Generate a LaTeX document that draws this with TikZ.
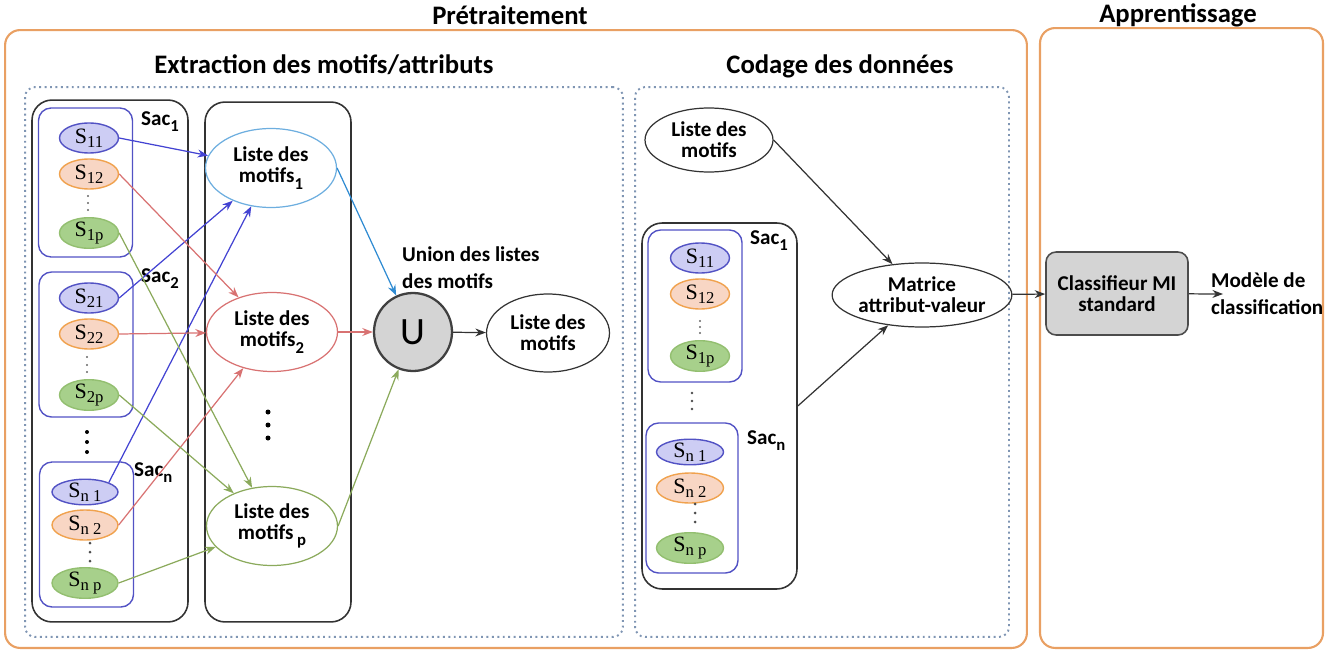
\documentclass[tikz,border=0pt]{standalone}
\usepackage{fontspec}
\setmainfont{Carlito}
\newfontfamily\serifS{Liberation Serif}
\usetikzlibrary{arrows.meta,shapes.geometric}

\definecolor{frameorange}{HTML}{E9A063}
\definecolor{framedots}{HTML}{7F95B3}
\definecolor{sbluefill}{HTML}{CDCDF4}
\definecolor{sblueline}{HTML}{5252C4}
\definecolor{sorangefill}{HTML}{F8D6C4}
\definecolor{sorangeline}{HTML}{F0A24E}
\definecolor{sgreenfill}{HTML}{A7D08B}
\definecolor{sgreenline}{HTML}{93BF70}
\definecolor{eblue}{HTML}{4343D2}
\definecolor{elightblue}{HTML}{2F8BD2}
\definecolor{ered}{HTML}{D87272}
\definecolor{egreen}{HTML}{8BAA5C}

\tikzset{box:phase/.style={draw=frameorange,line width=1.2pt,rounded corners=0.3cm,shape=rectangle}}
\tikzset{box:part/.style={draw=framedots,line width=1.1pt,dotted,rounded corners=0.2cm,shape=rectangle}}
\tikzset{box:bags/.style={draw=black!80,line width=0.9pt,rounded corners=0.4cm,shape=rectangle}}
\tikzset{box:sac/.style={draw=sblueline,line width=0.8pt,rounded corners=0.25cm,shape=rectangle,minimum width=1.88cm}}
\tikzset{node:s/.style={shape=ellipse,inner sep=0pt,minimum width=1.18cm,minimum height=0.6cm,line width=0.8pt}}
\tikzset{node:sblue/.style={node:s,draw=sblueline,fill=sbluefill}}
\tikzset{node:sorange/.style={node:s,draw=sorangeline,fill=sorangefill}}
\tikzset{node:sgreen/.style={node:s,draw=sgreenline,fill=sgreenfill}}
\tikzset{node:liste/.style={shape=ellipse,inner sep=0pt,align=center,minimum width=2.62cm,minimum height=1.58cm,line width=0.7pt}}
\tikzset{edge:style/.style={draw,line width=0.7pt,-{Stealth[length=6pt,width=4.5pt]}}}

\def\nodetext{\fontsize{12}{15.5}\selectfont\bfseries}
\def\titletext{\fontsize{15.2}{18}\selectfont\bfseries}
\def\sname#1{{\serifS\fontsize{12.5}{13}\selectfont S\raisebox{-0.35ex}{\fontsize{9.5}{10}\selectfont #1}}}
\def\sub#1{\raisebox{-0.6ex}{\fontsize{9.5}{10}\selectfont #1}}

\begin{document}
\begin{tikzpicture}[x=0.02cm,y=-0.02cm]
	\useasboundingbox (0,0) rectangle (1344,655);
	
	\path (516,339) node[box:phase,minimum width=20.44cm,minimum height=12.36cm] (pre) {};
	\path (1181.5,338) node[box:phase,minimum width=5.66cm,minimum height=12.4cm] (app) {};
	\path (324,362) node[box:part,minimum width=11.96cm,minimum height=11cm] (extr) {};
	\path (822,362) node[box:part,minimum width=7.48cm,minimum height=11cm] (cod) {};
	
	\path (510,15) node[font=\titletext] (tpre) {Prétraitement};
	\path (1178,15) node[font=\titletext] (tapp) {Apprentissage};
	\path (324,65) node[font=\titletext] (textr) {Extraction des motifs/attributs};
	\path (840,66) node[font=\titletext] (tcod) {Codage des données};
	
	\path (110,361) node[box:bags,minimum width=3.12cm,minimum height=10.44cm] (bags) {};
	\path (278,362) node[box:bags,minimum width=2.92cm,minimum height=10.4cm] (listes) {};
	
	\path (85.5,182.5) node[box:sac,minimum height=2.98cm] (sac1) {};
	\path (86,344.5) node[box:sac,minimum height=2.9cm] (sac2) {};
	\path (86.5,534.5) node[box:sac,minimum height=2.9cm] (sacn) {};
	\path (135,122) node[anchor=west,font=\nodetext] (lsac1) {Sac\sub{1}};
	\path (135,279) node[anchor=west,font=\nodetext] (lsac2) {Sac\sub{2}};
	\path (128,473) node[anchor=west,font=\nodetext] (lsacn) {Sac\sub{n}};
	
	\path (89,138) node[node:sblue] (s11) {\sname{11}};
	\path (89,174) node[node:sorange] (s12) {\sname{12}};
	\path (89,233) node[node:sgreen] (s1p) {\sname{1p}};
	\path (89,298) node[node:sblue] (s21) {\sname{21}};
	\path (89,334) node[node:sorange] (s22) {\sname{22}};
	\path (89,395) node[node:sgreen] (s2p) {\sname{2p}};
	\path (85,492) node[node:sblue,minimum width=1.32cm,minimum height=0.42cm] (sn1) {\sname{n 1}};
	\path (85,525) node[node:sorange,minimum width=1.32cm] (sn2) {\sname{n 2}};
	\path (85,583) node[node:sgreen,minimum width=1.32cm,minimum height=0.56cm] (snp) {\sname{n p}};
	
	\foreach \y in {196,203,210} \fill[black!60] (88,\y) circle (1.2);
	\foreach \y in {357,365,372} \fill[black!60] (87,\y) circle (1.2);
	\foreach \y in {432,442,452} \fill (87,\y) circle (2);
	\foreach \y in {543,552,561} \fill[black!70] (90,\y) circle (1.5);
	
	\path (271,168) node[node:liste,draw=elightblue!70] (l1) {\nodetext Liste des\\\nodetext motifs\sub{1}};
	\path (272,332) node[node:liste,draw=ered] (l2) {\nodetext Liste des\\\nodetext motifs\sub{2}};
	\path (272,526) node[node:liste,draw=egreen] (lp) {\nodetext Liste des\\\nodetext motifs\,\sub{p}};
	\foreach \y in {412,425,438} \fill (268,\y) circle (2.5);
	
	\path (413,332) node[shape=circle,draw=black!75,line width=1.3pt,fill=black!17,minimum size=1.56cm,inner sep=0pt,font=\fontsize{22}{22}\selectfont] (u) {U};
	\path (396,268) node[anchor=west,align=left,font=\nodetext] (lunion) {Union des listes\\des motifs};
	\path (548,333) node[node:liste,draw=black!80,minimum width=2.46cm,minimum height=1.56cm] (res) {\nodetext Liste des\\\nodetext motifs};
	
	\path[edge:style,eblue] (s11.east) -- (l1);
	\path[edge:style,eblue] (s21.east) -- (l1);
	\path[edge:style,eblue] (sn1.north east) -- (l1);
	\path[edge:style,ered] (s12.east) -- (l2);
	\path[edge:style,ered] (s22.east) -- (l2);
	\path[edge:style,ered] (sn2.east) -- (l2);
	\path[edge:style,egreen] (s1p.east) -- (lp);
	\path[edge:style,egreen] (s2p.east) -- (lp);
	\path[edge:style,egreen] (snp.east) -- (lp);
	\path[edge:style,elightblue] (l1.east) -- (u);
	\path[edge:style,ered] (l2) -- (u);
	\path[edge:style,egreen] (lp.east) -- (u);
	\path[edge:style,black!80] (u) -- (res);
	
	\path (709,140) node[node:liste,draw=black!80,minimum width=2.56cm,minimum height=1.28cm] (cl) {\nodetext Liste des\\\nodetext motifs};
	\path (719.5,406) node[box:bags,minimum width=3.1cm,minimum height=7.32cm] (cbags) {};
	\path (695,306) node[box:sac,minimum height=3.04cm] (csac1) {};
	\path (692,498) node[box:sac,minimum width=1.84cm,minimum height=3cm] (csacn) {};
	\path (744,241) node[anchor=west,font=\nodetext] (lcsac1) {Sac\sub{1}};
	\path (741,441) node[anchor=west,font=\nodetext] (lcsacn) {Sac\sub{n}};
	
	\path (700,258) node[node:sblue] (cs11) {\sname{11}};
	\path (700,294) node[node:sorange] (cs12) {\sname{12}};
	\path (700,356) node[node:sgreen] (cs1p) {\sname{1p}};
	\path (690,452) node[node:sblue,minimum width=1.34cm,minimum height=0.5cm] (csn1) {\sname{n 1}};
	\path (690,488) node[node:sorange,minimum width=1.34cm] (csn2) {\sname{n 2}};
	\path (690,548) node[node:sgreen,minimum width=1.34cm] (csnp) {\sname{n p}};
	
	\foreach \y in {321,327,333} \fill[black!60] (700,\y) circle (1.2);
	\foreach \y in {393,401,409} \fill[black!70] (692,\y) circle (1.4);
	\foreach \y in {504,513,522} \fill[black!70] (695,\y) circle (1.5);
	
	\path (922,295) node[node:liste,draw=black!80,minimum width=3cm,minimum height=1.28cm] (mat) {\nodetext Matrice\\\nodetext attribut-valeur};
	\path[edge:style,black!80] (cl.east) -- (mat);
	\path[edge:style,black!80] (cbags.east) -- (mat);
	
	\path (1117,293.5) node[shape=rectangle,draw=black!70,line width=0.9pt,fill=black!17,rounded corners=0.2cm,minimum width=2.84cm,minimum height=1.66cm,align=center] (clf) {\nodetext Classifieur MI\\\nodetext standard};
	\path (1205,294) node[anchor=west,align=left,font=\nodetext] (model) {Modèle de\\classification};
	\path (1223,294) coordinate (cout);
	\path[edge:style,black!80] (mat) -- (clf);
	\path[edge:style,black!80] (clf) -- (cout);
	
\end{tikzpicture}
\end{document}
